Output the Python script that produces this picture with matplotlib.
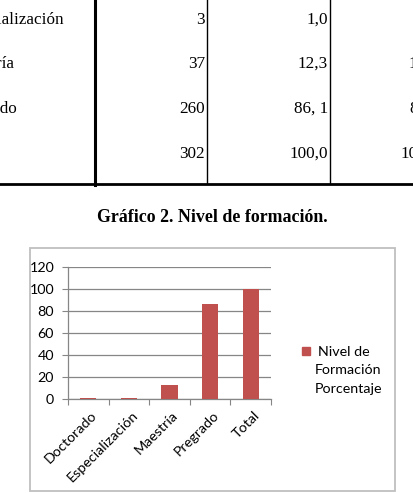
import matplotlib
matplotlib.use('Agg')
import matplotlib.pyplot as plt
from matplotlib.patches import Rectangle
from matplotlib.lines import Line2D

# 表格数据（截图中可见的部分）
row_labels = ['Especialización', 'Maestría', 'Pregrado', 'Total']
frecuencia = ['3', '37', '260', '302']
porcentaje = ['1,0', '12,3', '86, 1', '100,0']
porc_valido = ['1,0', '12,3', '86,1', '100,0']

# 图表数据
categorias = ['Doctorado', 'Especialización', 'Maestría', 'Pregrado', 'Total']
valores = [0.7, 1.0, 12.3, 86.1, 100.0]
serie = 'Nivel de\nFormación\nPorcentaje'

W, H = 414, 493
fig = plt.figure(figsize=(W / 100, H / 100), dpi=100)

# 像素坐标底层
bg = fig.add_axes([0, 0, 1, 1])
bg.set_xlim(0, W)
bg.set_ylim(H, 0)
bg.axis('off')

serif = 'Liberation Serif'
row_y = [19.5, 64, 109, 153.5]
label_end = [64, 15, 17, -20]
for lab, x, y in zip(row_labels, label_end, row_y):
    bg.text(x, y, lab, ha='right', va='center', fontsize=12.3, family=serif)
for f, p, v, y in zip(frecuencia, porcentaje, porc_valido, row_y):
    bg.text(205, y, f, ha='right', va='center', fontsize=12.3, family=serif)
    bg.text(328, y, p, ha='right', va='center', fontsize=12.3, family=serif)
    bg.text(439, y, v, ha='right', va='center', fontsize=12.3, family=serif)

# 表格线
bg.add_line(Line2D([95, 95], [0, 185], color='black', lw=2.2))
bg.add_line(Line2D([207, 207], [0, 183], color='black', lw=1.0))
bg.add_line(Line2D([330, 330], [0, 183], color='black', lw=1.0))
bg.add_line(Line2D([0, W], [183.5, 183.5], color='black', lw=2.0))

# 标题
bg.text(212.5, 217, 'Gráfico 2. Nivel de formación.', ha='center', va='center',
        fontsize=12.9, family=serif, fontweight='bold')

# 图表外框
bg.add_patch(Rectangle((30, 248), 365, 243, fill=False, edgecolor='#bfbfbf', lw=1.3))

# 柱状图
left, right, y0, y120 = 68, 271, 399, 267
ax = fig.add_axes([left / W, 1 - y0 / H, (right - left) / W, (y0 - y120) / H])
x = range(len(categorias))
ax.bar(x, valores, width=0.4, color='#c0504d', zorder=3)
ax.set_xlim(-0.5, len(categorias) - 0.5)
ax.set_ylim(0, 120)
ax.set_yticks(range(0, 121, 20))
ax.yaxis.grid(True, color='#868686', lw=0.9, zorder=0)
for s in ['top', 'right']:
    ax.spines[s].set_visible(False)
for s in ['left', 'bottom']:
    ax.spines[s].set_color('#868686')
    ax.spines[s].set_linewidth(0.9)

sans = 'Lato'
ax.tick_params(axis='y', length=4, color='#868686', labelsize=10.3, pad=6)
ax.set_xticks([i - 0.5 for i in range(len(categorias) + 1)])
ax.set_xticklabels([])
ax.tick_params(axis='x', length=4, color='#868686')
for lab in ax.get_yticklabels():
    lab.set_family(sans)
for i, c in enumerate(categorias):
    ax.text(i + 0.06, -9, c, rotation=45, ha='right', va='top', rotation_mode='anchor',
            fontsize=10.3, family=sans)

# 图例
bg.add_patch(Rectangle((302, 347), 8, 8, color='#c0504d'))
for i, line in enumerate(serie.split('\n')):
    bg.text(318 if i == 0 else 315, 352 + i * 18.5, line, ha='left', va='center',
            fontsize=10.3, family=sans)

fig.savefig('out.png', dpi=100)
